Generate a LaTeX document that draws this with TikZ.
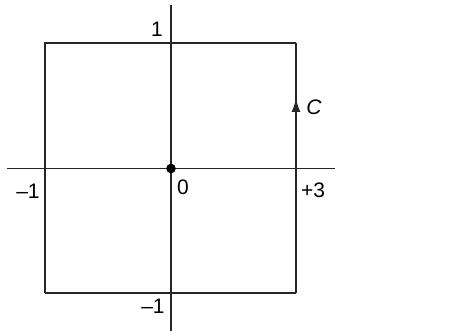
\documentclass[tikz,border=0pt]{standalone}
\usepackage{fontspec}
\setmainfont{Liberation Sans}
\usetikzlibrary{arrows.meta,decorations.markings}
\begin{document}
\begin{tikzpicture}[x=0.5pt,y=0.5pt,
        line/.style = {line width = 0.85pt, draw = black!85},
        lbl/.style = {font = \fontsize{10.5}{12}\selectfont, inner sep = 0pt},
        midarrow/.style = {postaction = {decorate}, decoration = {markings,
            mark = at position #1 with {\arrow{Latex[length=7pt,width=4.5pt]}}}}]
            \useasboundingbox (-171,-162.5) rectangle (299,168.5);
            % axes
            \coordinate (xl) at (-164,0);
            \coordinate (xr) at (164,0);
            \coordinate (yb) at (0,-162.5);
            \coordinate (yt) at (0,163.5);
            \draw[line] (xl) -- (xr);
            \draw[line] (yb) -- (yt);
            % contour C
            \coordinate (sw) at (-126,-124.5);
            \coordinate (se) at (125,-124.5);
            \coordinate (ne) at (125,125.5);
            \coordinate (nw) at (-126,125.5);
            \draw[line] (sw) -- (se);
            \draw[line, midarrow = 0.78] (se) -- (ne);
            \draw[line] (ne) -- (nw) -- (sw);
            \node[circle, fill = black, inner sep = 0pt, minimum size = 4.8pt] (o) at (0,0) {};
            \begin{scope}[every node/.append style = {lbl}]
                \node (one) at (-14,139.5) {1};
                \node (mone) at (-18,-137.5) {–1};
                \node (left) at (-143,-22.5) {–1};
                \node (zero) at (12,-18.5) {0};
                \node (three) at (142,-21.5) {+3};
                \node (c) at (143,61.5) {\itshape C};
            \end{scope}
        \end{tikzpicture}
\end{document}
